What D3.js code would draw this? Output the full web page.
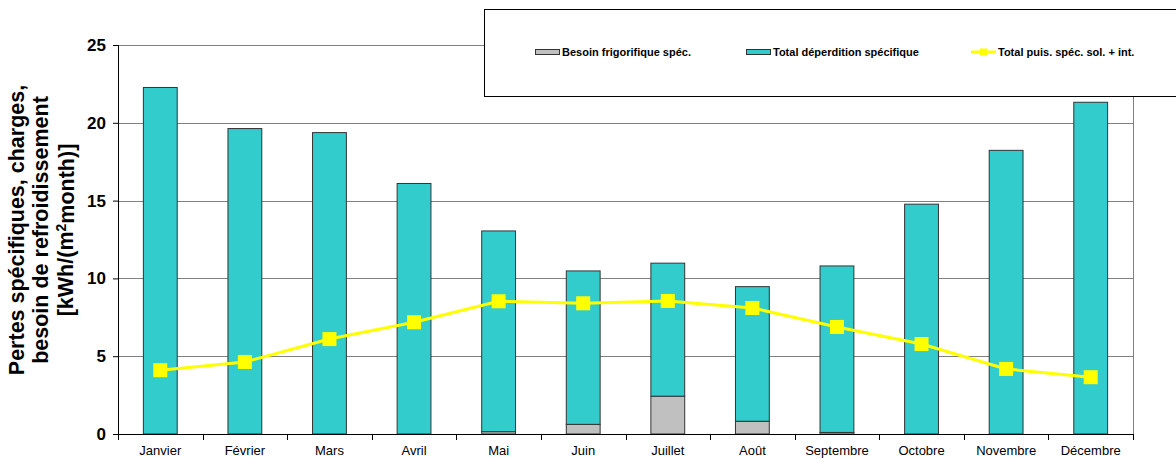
<!DOCTYPE html>
<html>
<head>
<meta charset="utf-8">
<script src="https://cdn.jsdelivr.net/npm/d3@7/dist/d3.min.js"></script>
<style>
  html, body { margin: 0; padding: 0; background: #fff; }
  svg { display: block; }
</style>
</head>
<body>
<div id="chart"></div>
<script>
// Monthly specific losses, gains and cooling demand [kWh/(m²month)]
const months = ["Janvier", "Février", "Mars", "Avril", "Mai", "Juin", "Juillet", "Août", "Septembre", "Octobre", "Novembre", "Décembre"];
const coolingNeed = [0, 0, 0, 0, 0.15, 0.62, 2.43, 0.82, 0.1, 0, 0, 0];
const totalLoss = [22.27, 19.63, 19.37, 16.1, 12.9, 9.86, 8.55, 8.65, 10.7, 14.77, 18.23, 21.32];
const solarInternalGains = [4.1, 4.63, 6.1, 7.18, 8.53, 8.4, 8.55, 8.1, 6.88, 5.78, 4.18, 3.65];
const yTicks = [0, 5, 10, 15, 20, 25];
const legendLabels = ["Besoin frigorifique spéc.", "Total déperdition spécifique", "Total puis. spéc. sol. + int."];

const W = 1176, H = 459;
const margin = { left: 118, right: 43, top: 45, bottom: 25 };
const plotW = W - margin.left - margin.right;
const plotH = H - margin.top - margin.bottom;

const svg = d3.select("#chart").append("svg").attr("width", W).attr("height", H);
const g = svg.append("g").attr("transform", `translate(${margin.left},${margin.top})`);

const x = d3.scaleBand().domain(months).range([0, plotW]).paddingInner(0.6).paddingOuter(0.3);
const y = d3.scaleLinear().domain([0, 25]).range([plotH, 0]);

// horizontal gridlines
g.append("g").selectAll("line").data(yTicks.filter(d => d > 0)).join("line")
  .attr("x1", 0).attr("x2", plotW)
  .attr("y1", d => Math.round(y(d)) + 0.5).attr("y2", d => Math.round(y(d)) + 0.5)
  .attr("stroke", "#808080").attr("stroke-width", 1);

// right frame edge
g.append("line").attr("x1", plotW + 0.5).attr("x2", plotW + 0.5)
  .attr("y1", 0).attr("y2", plotH).attr("stroke", "#808080");

// stacked bars: cooling need at the bottom, total loss on top
const stackData = months.map((m, i) => ({ month: m, cool: coolingNeed[i], loss: totalLoss[i] }));
const series = d3.stack().keys(["cool", "loss"])(stackData);
const fills = { cool: "#c0c0c0", loss: "#33cccc" };

g.append("g").selectAll("g").data(series).join("g")
  .attr("fill", d => fills[d.key])
  .selectAll("rect").data(d => d.filter(p => p[1] - p[0] > 0)).join("rect")
  .attr("x", d => x(d.data.month))
  .attr("width", x.bandwidth())
  .attr("y", d => y(d[1]))
  .attr("height", d => y(d[0]) - y(d[1]))
  .attr("stroke", "#333")
  .attr("stroke-width", 1);

// axes
const yAxis = g.append("g").call(d3.axisLeft(y).tickValues(yTicks).tickSize(5).tickPadding(7).tickFormat(d3.format("d")));
yAxis.select(".domain").attr("stroke", "#000");
yAxis.selectAll(".tick line").attr("stroke", "#000");
yAxis.selectAll("text").attr("font-family", "Liberation Sans, Arial, sans-serif")
  .attr("font-size", 17).attr("font-weight", "bold").attr("fill", "#000");

const xAxis = g.append("g").attr("transform", `translate(0,${plotH})`)
  .call(d3.axisBottom(x).tickSize(0).tickPadding(12));
xAxis.select(".domain").attr("stroke", "#000").attr("d", `M0,0.5H${plotW}`);
xAxis.selectAll("text").attr("font-family", "Liberation Sans, Arial, sans-serif")
  .attr("font-size", 13).attr("fill", "#000");
// category separators below the axis
const bounds = d3.range(0, months.length + 1).map(i => i * plotW / months.length);
xAxis.append("g").selectAll("line").data(bounds).join("line")
  .attr("x1", d => Math.round(d) + 0.5).attr("x2", d => Math.round(d) + 0.5)
  .attr("y1", 0).attr("y2", 6).attr("stroke", "#000");

// gains line with square markers
const line = d3.line().x((d, i) => x(months[i]) + x.bandwidth() / 2).y(d => y(d));
g.append("path").datum(solarInternalGains).attr("d", line)
  .attr("fill", "none").attr("stroke", "#ffff00").attr("stroke-width", 3);
g.append("g").selectAll("rect").data(solarInternalGains).join("rect")
  .attr("x", (d, i) => x(months[i]) + x.bandwidth() / 2 - 7)
  .attr("y", d => y(d) - 7)
  .attr("width", 14).attr("height", 14)
  .attr("fill", "#ffff00");

// y axis title
const title = svg.append("text")
  .attr("transform", "translate(57,230) rotate(-90)")
  .attr("text-anchor", "middle")
  .attr("font-family", "Liberation Sans, Arial, sans-serif")
  .attr("font-size", 21.5).attr("font-weight", "bold").attr("fill", "#000");
title.append("tspan").attr("x", 0).attr("dy", "-1.55em").text("Pertes spécifiques, charges,");
title.append("tspan").attr("x", 0).attr("dy", "1.15em").text("besoin de refroidissement");
const t3 = title.append("tspan").attr("x", 0).attr("dy", "1.15em");
t3.append("tspan").text("[kWh/(m");
t3.append("tspan").attr("font-size", 14).attr("dy", "-0.5em").text("2");
t3.append("tspan").attr("dy", "0.35em").text("month)]");

// legend box
const lg = svg.append("g");
lg.append("rect").attr("x", 484.5).attr("y", 9.5).attr("width", 720).attr("height", 87)
  .attr("fill", "#fff").attr("stroke", "#000").attr("stroke-width", 1);
const legendX = [535, 746, 971];
const legendItems = lg.selectAll("g.item").data(legendLabels).join("g")
  .attr("transform", (d, i) => `translate(${legendX[i]},52)`);
legendItems.each(function (d, i) {
  const it = d3.select(this);
  if (i < 2) {
    it.append("rect").attr("x", 0.5).attr("y", -2.5).attr("width", 24).attr("height", 5)
      .attr("fill", i === 0 ? fills.cool : fills.loss).attr("stroke", "#333");
  } else {
    it.append("line").attr("x1", 0).attr("x2", 25).attr("y1", 0).attr("y2", 0)
      .attr("stroke", "#ffff00").attr("stroke-width", 3);
    it.append("rect").attr("x", 9).attr("y", -3.5).attr("width", 7).attr("height", 7).attr("fill", "#ffff00");
  }
  it.append("text").attr("x", 27).attr("y", 4)
    .attr("font-family", "Liberation Sans Narrow, Arial Narrow, sans-serif")
    .attr("font-size", 11).attr("font-weight", "bold").attr("fill", "#000").text(d);
});
</script>
</body>
</html>
